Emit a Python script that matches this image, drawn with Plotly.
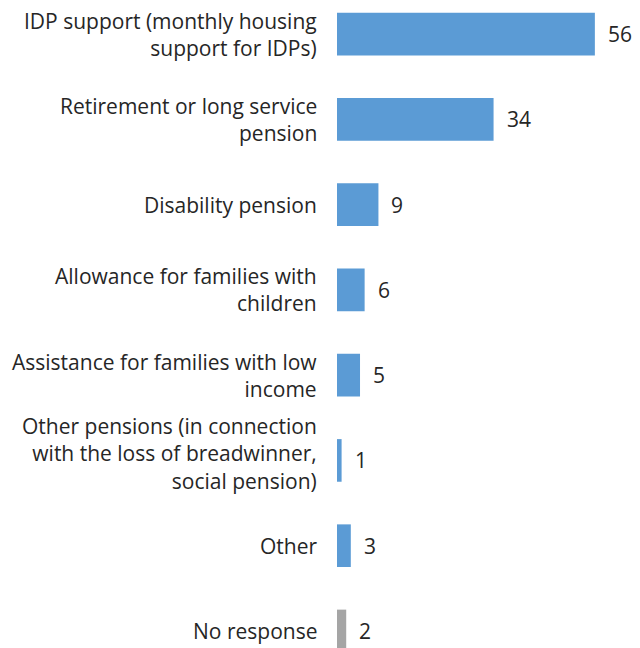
import plotly.graph_objects as go

categories = [
    "IDP support (monthly housing<br>support for IDPs)",
    "Retirement or long service<br>pension",
    "Disability pension",
    "Allowance for families with<br>children",
    "Assistance for families with low<br>income",
    "Other pensions (in connection<br>with the loss of breadwinner,<br>social pension)",
    "Other",
    "No response",
]
values = [56, 34, 9, 6, 5, 1, 3, 2]
colors = ["#5B9BD5"] * 7 + ["#A5A5A5"]

FONT = "Open Sans"
TEXT_COLOR = "#262626"
positions = list(range(len(categories)))

fig = go.Figure(
    go.Bar(
        x=values,
        y=positions,
        orientation="h",
        width=0.5,
        marker=dict(color=colors, line=dict(width=0)),
        hoverinfo="skip",
    )
)

# value labels just past the bar ends
for pos, val in zip(positions, values):
    fig.add_annotation(
        x=val, y=pos, xref="x", yref="y",
        text=str(val), showarrow=False,
        xanchor="left", yanchor="middle", xshift=11,
        font=dict(family=FONT, size=21, color=TEXT_COLOR),
    )

# category labels, right-aligned left of the bars
for pos, cat in zip(positions, categories):
    n_lines = cat.count("<br>") + 1
    fig.add_annotation(
        x=0, y=pos, xref="paper", yref="y",
        text=cat, showarrow=False, align="right",
        xanchor="right", yanchor="middle", xshift=-18,
        yshift=7 if n_lines > 2 else 0,
        font=dict(family=FONT, size=21, color=TEXT_COLOR),
    )

fig.update_layout(
    width=640, height=648,
    margin=dict(l=337, r=0, t=0, b=0),
    paper_bgcolor="white", plot_bgcolor="white",
    showlegend=False,
    xaxis=dict(range=[0, 65.8], visible=False, fixedrange=True),
    yaxis=dict(range=[7.2, -0.4], visible=False, fixedrange=True),
)

fig.write_html("out.html")
